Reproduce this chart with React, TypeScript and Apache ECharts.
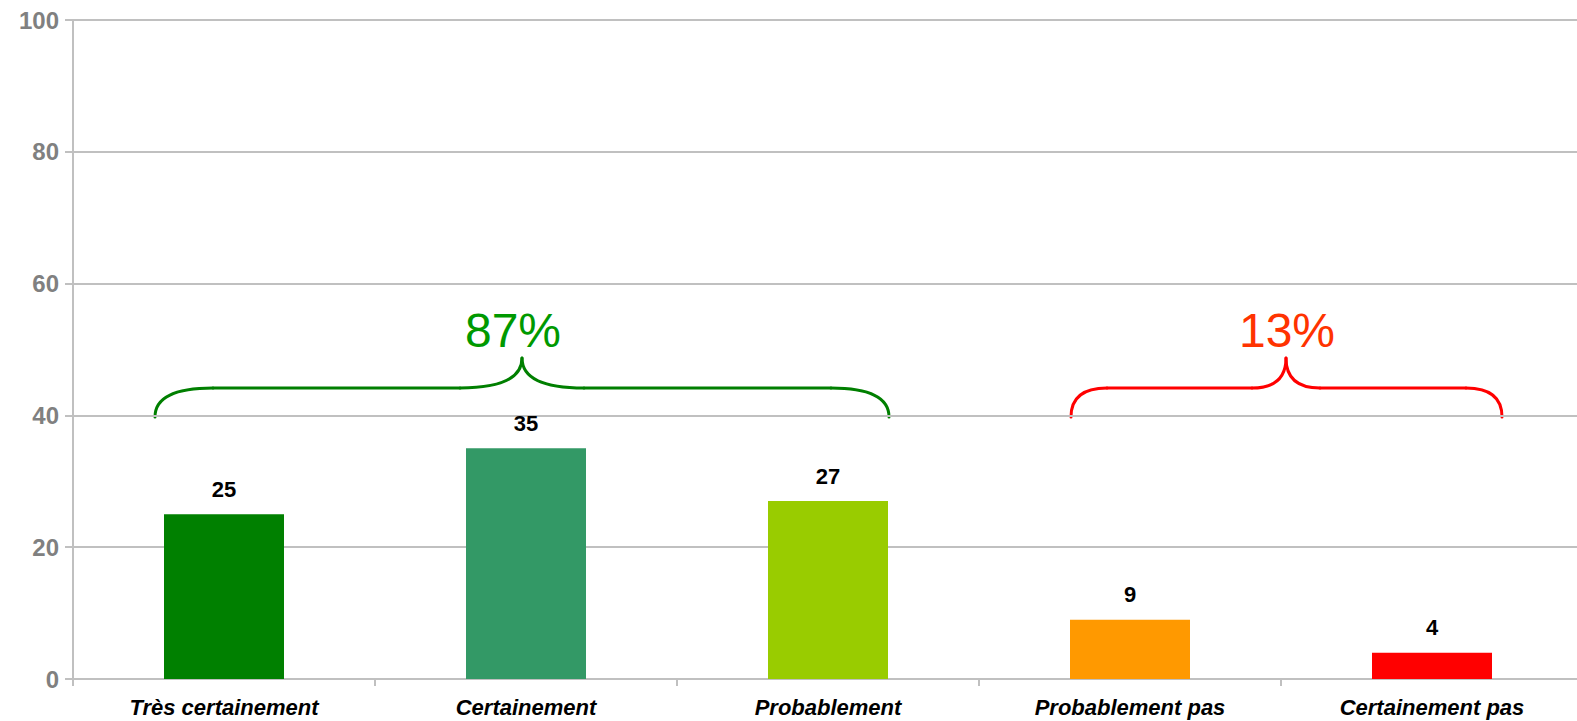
import React, { useEffect, useRef } from "react";
import * as echarts from "echarts";

const categories = ["Très certainement", "Certainement", "Probablement", "Probablement pas", "Certainement pas"];
const values = [25, 35, 27, 9, 4];
const barColors = ["#008000", "#339966", "#99CC00", "#FF9900", "#FF0000"];
const yTicks = [0, 20, 40, 60, 80, 100];
const groupLabels = ["87%", "13%"];

function brace(x1: number, x2: number, xm: number, yB: number, yL: number, yT: number, rEnd: number, rTip: number, color: string) {
  const style = { stroke: color, lineWidth: 3, fill: "none", lineCap: "round" as const };
  return [
    { type: "bezierCurve", shape: { x1, y1: yB, cpx1: x1, cpy1: yL, x2: x1 + rEnd, y2: yL }, style },
    { type: "line", shape: { x1: x1 + rEnd, y1: yL, x2: xm - rTip, y2: yL }, style },
    { type: "bezierCurve", shape: { x1: xm - rTip, y1: yL, cpx1: xm, cpy1: yL, x2: xm, y2: yT }, style },
    { type: "bezierCurve", shape: { x1: xm, y1: yT, cpx1: xm, cpy1: yL, x2: xm + rTip, y2: yL }, style },
    { type: "line", shape: { x1: xm + rTip, y1: yL, x2: x2 - rEnd, y2: yL }, style },
    { type: "bezierCurve", shape: { x1: x2 - rEnd, y1: yL, cpx1: x2, cpy1: yL, x2: x2, y2: yB }, style },
  ];
}

export default function App() {
  const ref = useRef<HTMLDivElement>(null);
  useEffect(() => {
    if (!ref.current) return;
    const chart = echarts.init(ref.current, undefined, { renderer: "svg" });
    chart.setOption({
      animation: false,
      backgroundColor: "#FFFFFF",
      grid: { left: 74, right: 0, top: 20, bottom: 42, containLabel: false },
      xAxis: {
        type: "category",
        data: categories,
        axisLine: { lineStyle: { color: "#C0C0C0", width: 2 } },
        axisTick: { show: true, alignWithLabel: false, length: 7, lineStyle: { color: "#C0C0C0", width: 2 } },
        axisLabel: {
          color: "#000000",
          fontFamily: "Liberation Sans, Arial, sans-serif",
          fontWeight: "bold",
          fontStyle: "italic",
          fontSize: 22,
          margin: 17,
          interval: 0,
        },
      },
      yAxis: {
        type: "value",
        min: yTicks[0],
        max: yTicks[yTicks.length - 1],
        interval: 20,
        axisLine: { show: true, lineStyle: { color: "#C0C0C0", width: 2 } },
        axisTick: { show: true, length: 8, lineStyle: { color: "#C0C0C0", width: 2 } },
        splitLine: { show: true, lineStyle: { color: "#C0C0C0", width: 2 } },
        axisLabel: {
          color: "#808080",
          fontFamily: "Liberation Sans, Arial, sans-serif",
          fontWeight: "bold",
          fontSize: 24,
          margin: 14,
        },
      },
      series: [
        {
          type: "bar",
          barWidth: 120,
          data: values.map((v, i) => ({ value: v, itemStyle: { color: barColors[i] } })),
          label: {
            show: true,
            position: "top",
            distance: 14,
            color: "#000000",
            fontFamily: "Liberation Sans, Arial, sans-serif",
            fontWeight: "bold",
            fontSize: 22,
          },
        },
      ],
      graphic: [
        ...brace(156, 890, 523, 417, 388, 358, 58, 62, "#007F00"),
        ...brace(1072, 1503, 1287, 417, 388, 358, 36, 34, "#FF0000"),
        {
          type: "text",
          x: 514,
          y: 330,
          style: {
            text: groupLabels[0],
            fill: "#009900",
            font: "48px 'Liberation Sans', Arial, sans-serif",
            align: "center",
            verticalAlign: "middle",
            textAlign: "center",
            textVerticalAlign: "middle",
          },
        },
        {
          type: "text",
          x: 1288,
          y: 330,
          style: {
            text: groupLabels[1],
            fill: "#FF3300",
            font: "48px 'Liberation Sans', Arial, sans-serif",
            align: "center",
            verticalAlign: "middle",
            textAlign: "center",
            textVerticalAlign: "middle",
          },
        },
      ],
    });
    return () => chart.dispose();
  }, []);
  return (
    <div
      style={{ position: "absolute", left: 0, top: 0, width: 1577, height: 721, overflow: "hidden", background: "#FFFFFF" }}
    >
      <div ref={ref} style={{ position: "absolute", left: -1, top: 0, width: 1584, height: 721 }} />
    </div>
  );
}
